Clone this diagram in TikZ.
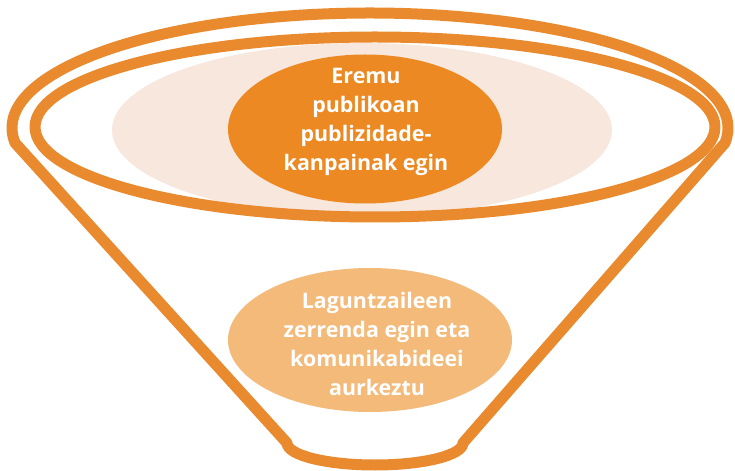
\documentclass[tikz,border=0pt]{standalone}
\usepackage{fontspec}
\setmainfont{Open Sans}
\usetikzlibrary{shapes.geometric}
\definecolor{rim}{RGB}{233,138,46}
\definecolor{darkor}{RGB}{236,137,34}
\definecolor{pinkbg}{RGB}{248,231,221}
\definecolor{lightor}{RGB}{243,186,122}
\begin{document}
\begin{tikzpicture}[x=1bp,y=-1bp,
  rimline/.style={draw=rim,line width=11bp,line join=round},
  blob/.style={ellipse,draw=none,inner sep=0pt},
  label/.style={text=white,font=\bfseries\fontsize{21.5}{29}\selectfont,align=center,inner sep=0pt}]
\useasboundingbox (0,0) rectangle (735,471);
% background pink ellipse
\node[blob,fill=pinkbg,minimum width=500bp,minimum height=174bp] (pink) at (362,130) {};
% inner ring
\draw[rimline] (375,127) ellipse [x radius=340,y radius=90];
\coordinate (ringc) at (375,127);
% funnel outline
\draw[rimline] (15.1,143) arc[start angle=172.5,end angle=367.5,x radius=358,y radius=115]
  -- (463,443) arc[start angle=0,end angle=180,x radius=88,y radius=22] -- cycle;
% top ellipse
\node[blob,fill=darkor,minimum width=274bp,minimum height=149bp] (top) at (365,129) {};
\node[label] (toptext) at (366,122) {Eremu\\publikoan\\publizidade-\\kanpainak egin};
% bottom ellipse
\node[blob,fill=lightor,minimum width=284bp,minimum height=144bp] (bottom) at (370,340) {};
\node[label] (bottomtext) at (377,344) {Laguntzaileen\\zerrenda egin eta\\komunikabideei\\aurkeztu};
\end{tikzpicture}
\end{document}
